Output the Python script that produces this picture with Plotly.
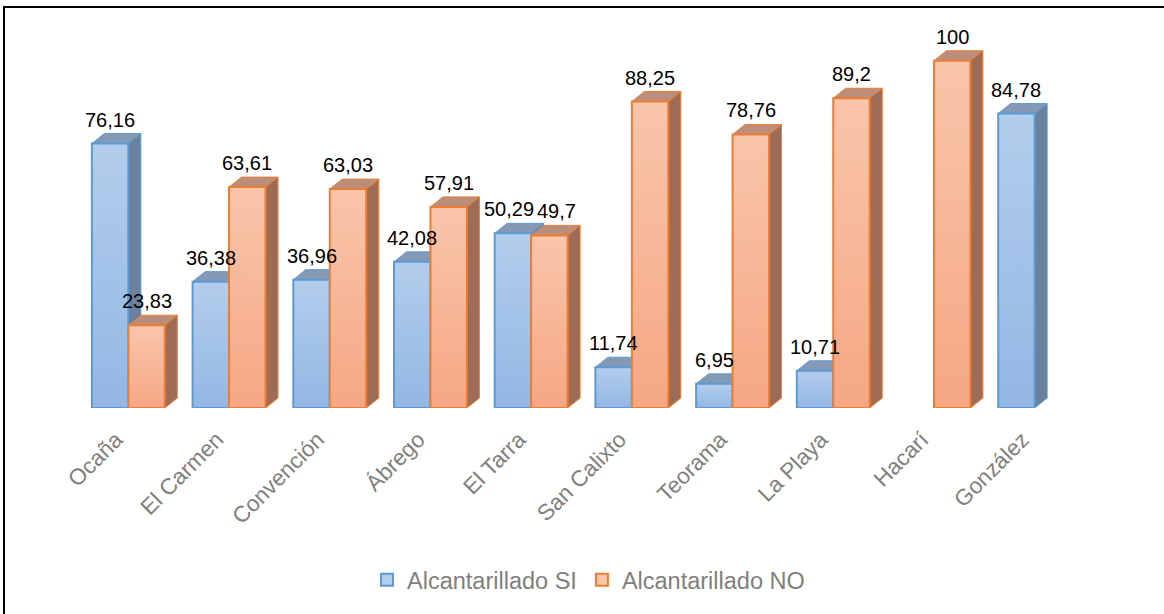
import plotly.graph_objects as go

categories = ["Ocaña", "El Carmen", "Convención", "Ábrego", "El Tarra",
              "San Calixto", "Teorama", "La Playa", "Hacarí", "González"]
si_values = [76.16, 36.38, 36.96, 42.08, 50.29, 11.74, 6.95, 10.71, None, 84.78]
no_values = [23.83, 63.61, 63.03, 57.91, 49.7, 88.25, 78.76, 89.2, 100, None]
series_names = ["Alcantarillado SI", "Alcantarillado NO"]

# small horizontal nudges (px) for value labels that would collide (series index, category index)
label_xshift = {(0, 4): -4, (1, 4): 7}

# geometry of the pseudo-3D bars (in axis units)
BAR_W = 0.362
DX = 0.124
DY = 2.88

W, H = 1164, 614
L, R, T, B = 78, 79, 26, 206
YMAX = 110

styles = [
    dict(line="#5b9bd5", top="#b3cdec", bottom="#93b7e3", side="#6b809b", cap="#8499b4"),
    dict(line="#ed7d31", top="#f9c5ab", bottom="#f5a784", side="#9d6c57", cap="#ba8e7a"),
]


def fmt(v):
    return f"{v:g}".replace(".", ",")


fig = go.Figure()

for s_idx, (vals, st) in enumerate(zip([si_values, no_values], styles)):
    offset = -BAR_W if s_idx == 0 else 0.0
    side_x, side_y, cap_x, cap_y = [], [], [], []
    for i, v in enumerate(vals):
        if v is None:
            continue
        x0 = i + offset
        x1 = x0 + BAR_W
        side_x += [x1, x1 + DX, x1 + DX, x1, x1, None]
        side_y += [0, DY, v + DY, v, 0, None]
        cap_x += [x0, x0 + DX, x1 + DX, x1, x0, None]
        cap_y += [v, v + DY, v + DY, v, v, None]
    fig.add_trace(go.Scatter(x=side_x, y=side_y, mode="lines", fill="toself",
                             fillcolor=st["side"], line=dict(color=st["line"], width=1),
                             hoverinfo="skip", showlegend=False))
    fig.add_trace(go.Scatter(x=cap_x, y=cap_y, mode="lines", fill="toself",
                             fillcolor=st["cap"], line=dict(color=st["line"], width=1),
                             hoverinfo="skip", showlegend=False))
    for i, v in enumerate(vals):
        if v is None:
            continue
        x0 = i + offset
        x1 = x0 + BAR_W
        fig.add_trace(go.Scatter(
            x=[x0, x1, x1, x0, x0], y=[0, 0, v, v, 0], mode="lines", fill="toself",
            fillgradient=dict(type="vertical", start=0, stop=v,
                              colorscale=[[0, st["bottom"]], [1, st["top"]]]),
            line=dict(color=st["line"], width=2),
            name=series_names[s_idx], showlegend=False,
            hovertemplate=f"{categories[i]}: {fmt(v)}<extra>{series_names[s_idx]}</extra>"))

# value labels
for s_idx, vals in enumerate([si_values, no_values]):
    offset = -BAR_W if s_idx == 0 else 0.0
    for i, v in enumerate(vals):
        if v is None:
            continue
        fig.add_annotation(x=i + offset + BAR_W / 2, y=v + DY, text=fmt(v),
                           showarrow=False, xanchor="center", yanchor="bottom",
                           yshift=1, xshift=label_xshift.get((s_idx, i), 0),
                           font=dict(family="Liberation Sans, Arial", size=20, color="#000000"))

# legend entries
for s_idx, st in enumerate(styles):
    fig.add_trace(go.Bar(x=[None], y=[None], name=series_names[s_idx],
                         marker=dict(color=st["top"], line=dict(color=st["line"], width=2))))


def px_to_paper_x(px):
    return (px - L) / (W - L - R)


def px_to_paper_y(py):
    return (H - B - py) / (H - T - B)


fig.add_shape(type="rect", xref="paper", yref="paper",
              x0=px_to_paper_x(4), x1=px_to_paper_x(1172),
              y0=px_to_paper_y(622), y1=px_to_paper_y(7),
              line=dict(color="#000000", width=2), fillcolor="rgba(0,0,0,0)", layer="below")

TICK_SHIFT = -0.12
fig.update_layout(
    width=W, height=H,
    margin=dict(l=L, r=R, t=T, b=B),
    paper_bgcolor="white", plot_bgcolor="white",
    font=dict(family="Liberation Sans, Arial", color="#7f7f7f"),
    xaxis=dict(range=[-0.5, 9.5], tickmode="array",
               tickvals=[i + TICK_SHIFT for i in range(len(categories))],
               ticktext=categories, tickangle=-45, showgrid=False, zeroline=False,
               showline=False, ticks="", tickfont=dict(size=22.5, color="#7f7f7f"),
               ticklabelstandoff=13),
    yaxis=dict(range=[0, YMAX], visible=False, showgrid=False, zeroline=False),
    legend=dict(orientation="h", x=0.507, xanchor="center", y=px_to_paper_y(580),
                yanchor="middle", font=dict(size=23.5, color="#7f7f7f"),
                traceorder="normal", itemclick=False),
    showlegend=True,
)

fig.write_html("out.html", config={"displayModeBar": False},
               post_script="document.body.style.margin='0';")
